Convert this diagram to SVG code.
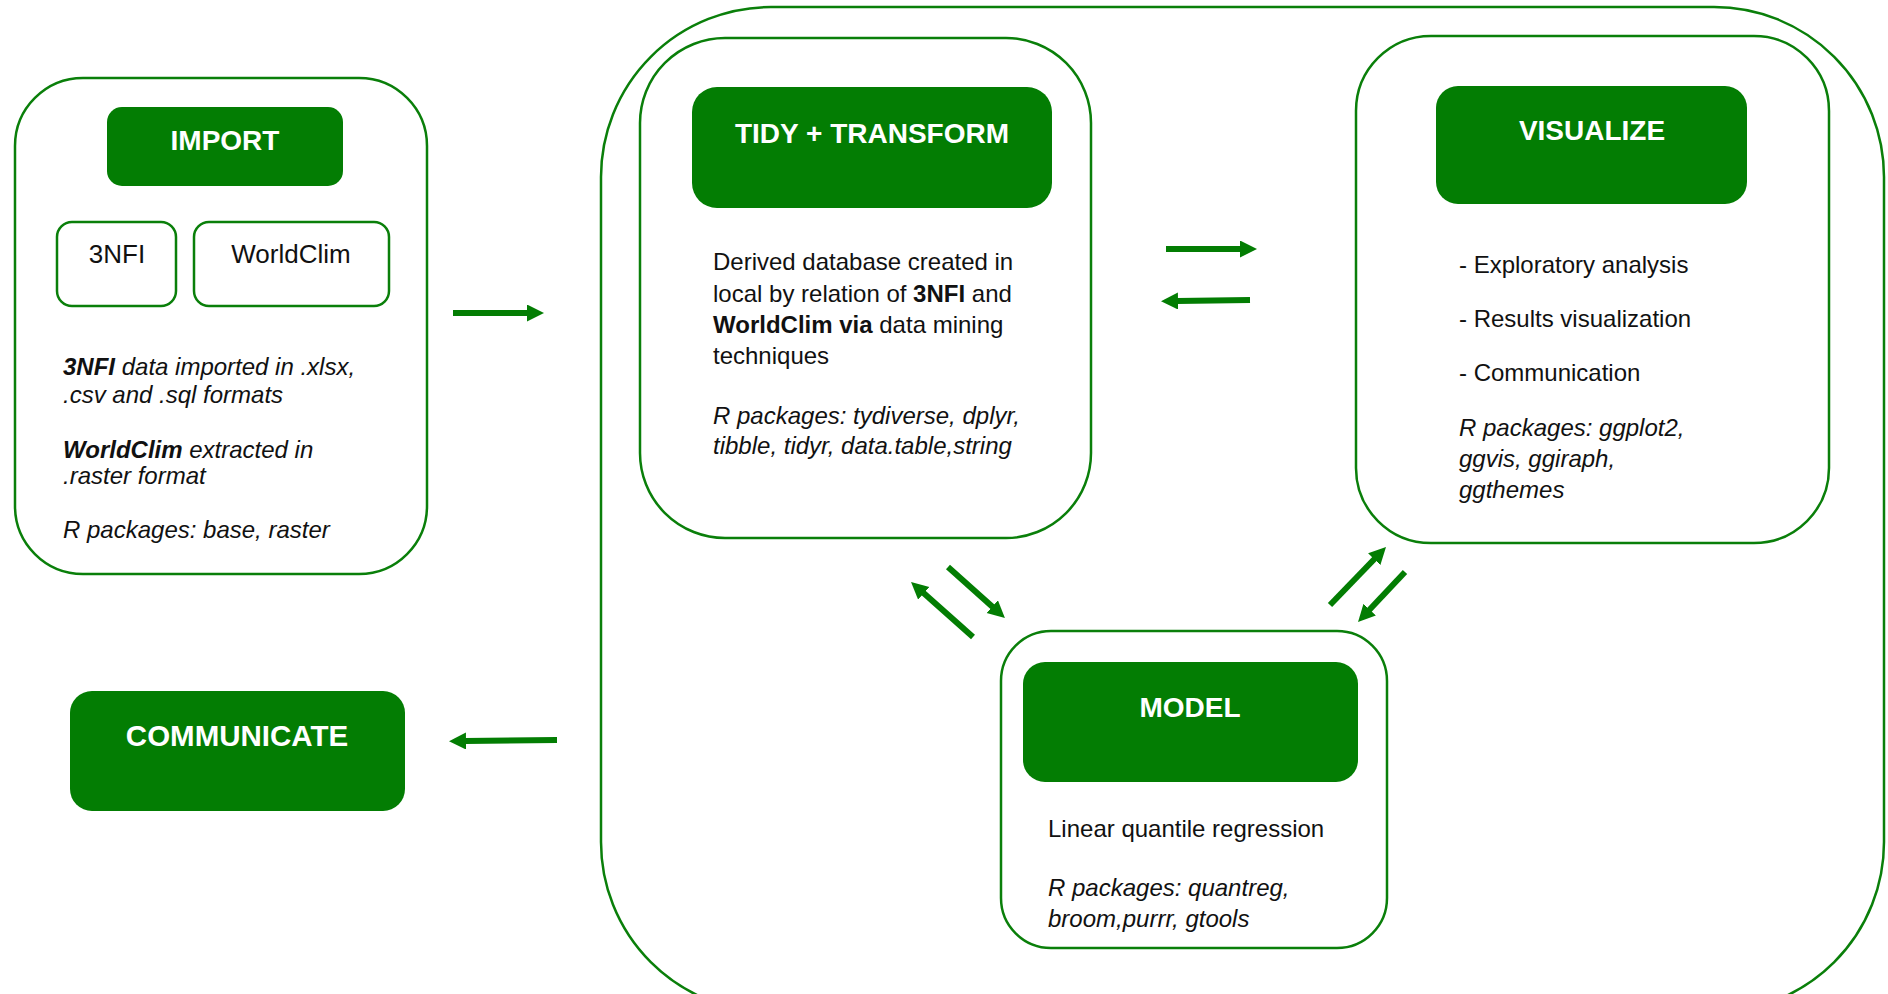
<svg xmlns="http://www.w3.org/2000/svg" width="1888" height="994" viewBox="0 0 1888 994">
<style>
.frame{fill:none;stroke:#0a7f0a;stroke-width:2.5}
.box{fill:#ffffff;stroke:#0a7f0a;stroke-width:2.5}
.head{fill:#037d03;stroke:none}
.ht{font-family:"Liberation Sans",Arial,sans-serif;font-size:28px;font-weight:bold;fill:#ffffff;text-anchor:middle}
.t{font-family:"Liberation Sans",Arial,sans-serif;font-size:24px;fill:#111111}
.tc{font-family:"Liberation Sans",Arial,sans-serif;font-size:26px;fill:#111111;text-anchor:middle}
.i{font-style:italic}
.b{font-weight:bold}
.arr{stroke:#037d03;stroke-width:6;fill:none;marker-end:url(#ah)}
</style>
<defs>
<marker id="ah" markerUnits="userSpaceOnUse" markerWidth="18" markerHeight="18" refX="1" refY="8.5" orient="auto">
<path d="M0,0 L17,8.5 L0,17 Z" fill="#037d03"/>
</marker>
</defs>
<rect width="1888" height="994" fill="#ffffff"/>
<g id="workflow-frame">
<rect class="frame" x="601" y="7" width="1283" height="1005" rx="170" ry="170"/>
</g>
<g id="import">
<rect class="box" x="15" y="78" width="412" height="496" rx="68" ry="68"/>
<rect class="head" x="107" y="107" width="236" height="79" rx="15" ry="15"/>
<text class="ht" x="225" y="150">IMPORT</text>
</g>
<g id="nfi3">
<rect class="box" x="57" y="222" width="119" height="84" rx="15" ry="15"/>
<text class="tc" x="117" y="263">3NFI</text>
</g>
<g id="worldclim">
<rect class="box" x="194" y="222" width="195" height="84" rx="15" ry="15"/>
<text class="tc" x="291" y="263">WorldClim</text>
</g>
<g id="import-text">
<text class="t i" x="63" y="375"><tspan class="b">3NFI</tspan> data imported in .xlsx,</text>
<text class="t i" x="63" y="403">.csv and .sql formats</text>
<text class="t i" x="63" y="458"><tspan class="b">WorldClim</tspan> extracted in</text>
<text class="t i" x="63" y="484">.raster format</text>
<text class="t i" x="63" y="538">R packages: base, raster</text>
</g>
<g id="tidy">
<rect class="box" x="640" y="38" width="451" height="500" rx="85" ry="85"/>
<rect class="head" x="692" y="87" width="360" height="121" rx="25" ry="25"/>
<text class="ht" x="872" y="143">TIDY + TRANSFORM</text>
<text class="t" x="713" y="270">Derived database created in</text>
<text class="t" x="713" y="302">local by relation of <tspan class="b">3NFI</tspan> and</text>
<text class="t" x="713" y="333"><tspan class="b">WorldClim via</tspan> data mining</text>
<text class="t" x="713" y="364">techniques</text>
<text class="t i" x="713" y="424">R packages: tydiverse, dplyr,</text>
<text class="t i" x="713" y="454">tibble, tidyr, data.table,string</text>
</g>
<g id="visualize">
<rect class="box" x="1356" y="36" width="473" height="507" rx="75" ry="75"/>
<rect class="head" x="1436" y="86" width="311" height="118" rx="22" ry="22"/>
<text class="ht" x="1592" y="140">VISUALIZE</text>
<text class="t" x="1459" y="273">- Exploratory analysis</text>
<text class="t" x="1459" y="327">- Results visualization</text>
<text class="t" x="1459" y="381">- Communication</text>
<text class="t i" x="1459" y="436">R packages: ggplot2,</text>
<text class="t i" x="1459" y="467">ggvis, ggiraph,</text>
<text class="t i" x="1459" y="498">ggthemes</text>
</g>
<g id="model">
<rect class="box" x="1001" y="631" width="386" height="317" rx="50" ry="50"/>
<rect class="head" x="1023" y="662" width="335" height="120" rx="22" ry="22"/>
<text class="ht" x="1190" y="717">MODEL</text>
<text class="t" x="1048" y="837">Linear quantile regression</text>
<text class="t i" x="1048" y="896">R packages: quantreg,</text>
<text class="t i" x="1048" y="927">broom,purrr, gtools</text>
</g>
<g id="communicate">
<rect class="head" x="70" y="691" width="335" height="120" rx="22" ry="22"/>
<text class="ht" x="237" y="746" style="font-size:29.5px">COMMUNICATE</text>
</g>
<g id="connectors">
<line class="arr" x1="453" y1="313" x2="528" y2="313"/>
<line class="arr" x1="557" y1="740" x2="465" y2="741"/>
<line class="arr" x1="1166" y1="249" x2="1241" y2="249"/>
<line class="arr" x1="1250" y1="300" x2="1177" y2="301"/>
<line class="arr" x1="948" y1="567" x2="993" y2="607.3"/>
<line class="arr" x1="973" y1="637" x2="923" y2="592.6"/>
<line class="arr" x1="1330" y1="605" x2="1374.9" y2="558.5"/>
<line class="arr" x1="1405" y1="572" x2="1369" y2="610.3"/>
</g>
</svg>
